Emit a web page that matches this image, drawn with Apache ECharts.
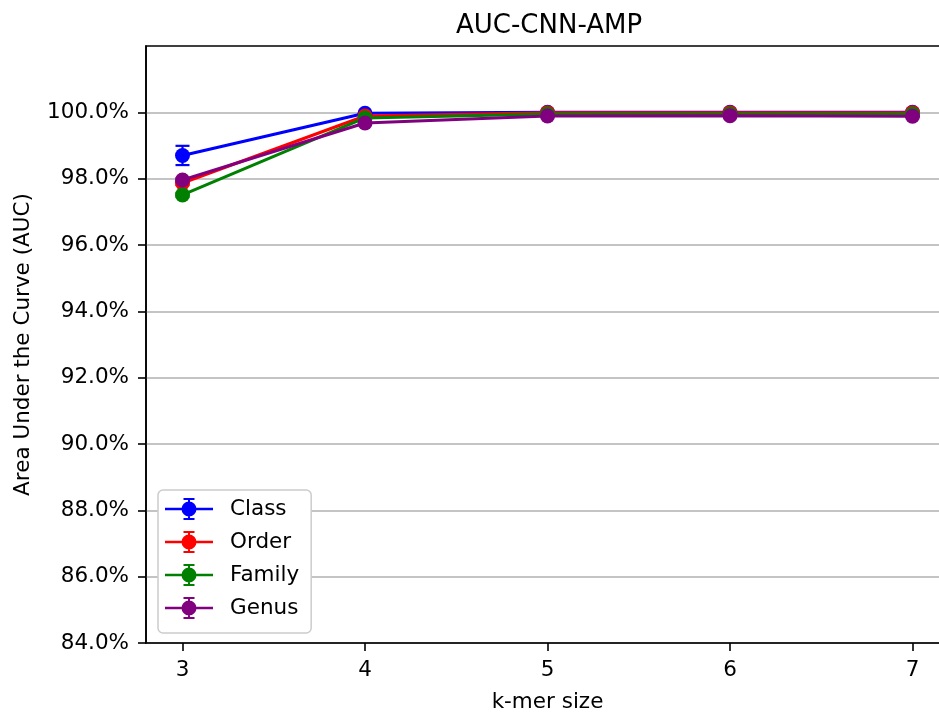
<!DOCTYPE html>
<html>
<head>
<meta charset="utf-8">
<script src="https://cdn.jsdelivr.net/npm/echarts@6/dist/echarts.min.js"></script>
<style>
  html, body { margin: 0; padding: 0; background: #fff; }
  #chart { width: 939px; height: 712px; }
</style>
</head>
<body>
<div id="chart"></div>
<script>
// k-mer sizes on the x axis
var kmers = [3, 4, 5, 6, 7];
// mean AUC (%) per taxonomic level
var classAuc  = [98.70, 99.97, 100.00, 100.00, 100.00];
var orderAuc  = [97.87, 99.89, 99.99, 99.99, 99.99];
var familyAuc = [97.51, 99.83, 99.95, 99.95, 99.95];
var genusAuc  = [97.96, 99.68, 99.89, 99.90, 99.88];
// std dev (%) for the error bars
var classErr  = [0.29, 0.03, 0.01, 0.01, 0.01];
var orderErr  = [0.06, 0.03, 0.01, 0.01, 0.01];
var familyErr = [0.05, 0.03, 0.01, 0.01, 0.01];
var genusErr  = [0.05, 0.03, 0.01, 0.01, 0.01];
var yTicks = [84, 86, 88, 90, 92, 94, 96, 98, 100];

var FONT = "DejaVu Sans";
var FS = 21.5;
var levels = [
  { name: "Class",  color: "#0000ff", y: classAuc,  err: classErr },
  { name: "Order",  color: "#ff0000", y: orderAuc,  err: orderErr },
  { name: "Family", color: "#008000", y: familyAuc, err: familyErr },
  { name: "Genus",  color: "#800080", y: genusAuc,  err: genusErr }
];

// legend glyph: line + marker + errorbar with caps (48x22 box)
var errIcon = "path://M0 9.7h48v2.6h-48Z" +
  "M31.5 11A7.5 7.5 0 1 1 16.5 11A7.5 7.5 0 1 1 31.5 11Z" +
  "M23 0h2v22h-2Z" +
  "M18.5 0h11v2h-11Z" +
  "M18.5 20h11v2h-11Z";

var series = [];
levels.forEach(function (lv) {
  var pts = kmers.map(function (k, i) { return [k, lv.y[i]]; });
  series.push({
    name: lv.name,
    type: "line",
    data: pts,
    symbol: "circle",
    symbolSize: 15,
    showSymbol: true,
    lineStyle: { color: lv.color, width: 3 },
    itemStyle: { color: lv.color },
    emphasis: { disabled: true },
    animation: false
  });
  series.push({
    name: lv.name,
    type: "custom",
    data: kmers.map(function (k, i) { return [k, lv.y[i] - lv.err[i], lv.y[i] + lv.err[i]]; }),
    renderItem: function (params, api) {
      var lo = api.coord([api.value(0), api.value(1)]);
      var hi = api.coord([api.value(0), api.value(2)]);
      var cap = 7;
      var st = { stroke: lv.color, lineWidth: 2.2 };
      return {
        type: "group",
        children: [
          { type: "line", shape: { x1: lo[0], y1: lo[1], x2: hi[0], y2: hi[1] }, style: st },
          { type: "line", shape: { x1: lo[0] - cap, y1: lo[1], x2: lo[0] + cap, y2: lo[1] }, style: st },
          { type: "line", shape: { x1: hi[0] - cap, y1: hi[1], x2: hi[0] + cap, y2: hi[1] }, style: st }
        ]
      };
    },
    encode: { x: 0, y: [1, 2] },
    silent: true,
    animation: false
  });
});

var chart = echarts.init(document.getElementById("chart"), null, { renderer: "canvas" });
chart.setOption({
  backgroundColor: "#ffffff",
  animation: false,
  textStyle: { fontFamily: FONT },
  title: {
    text: "AUC-CNN-AMP",
    left: 451,
    top: 8,
    textStyle: { fontFamily: FONT, fontSize: 26, fontWeight: "normal", color: "#000" }
  },
  grid: {
    left: 146, width: 803, top: 46, bottom: 69,
    outerBoundsMode: "none",
    containLabel: false,
    show: true, borderColor: "#000", borderWidth: 1.6, backgroundColor: "transparent"
  },
  legend: {
    orient: "vertical",
    left: 158,
    top: 490,
    padding: [8, 12, 14, 7],
    itemWidth: 48,
    itemHeight: 22,
    itemGap: 11,
    icon: errIcon,
    backgroundColor: "#ffffff",
    borderColor: "#cccccc",
    borderWidth: 1.5,
    borderRadius: 5,
    selectedMode: false,
    data: levels.map(function (lv) { return { name: lv.name, itemStyle: { color: lv.color } }; }),
    textStyle: { fontFamily: FONT, fontSize: FS, color: "#000", padding: [0, 0, 0, 12] }
  },
  xAxis: {
    type: "value",
    min: 2.8,
    max: 7.2,
    name: "k-mer size",
    nameLocation: "middle",
    nameGap: 48,
    nameTextStyle: { fontFamily: FONT, fontSize: FS, color: "#000" },
    axisLine: { show: true, lineStyle: { color: "#000", width: 1.6 } },
    axisTick: { show: true, length: 8, lineStyle: { color: "#000", width: 1.6 }, customValues: kmers },
    axisLabel: { customValues: kmers, margin: 16, fontFamily: FONT, fontSize: FS, color: "#000" },
    splitLine: { show: false }
  },
  yAxis: {
    type: "value",
    min: 84,
    max: 102,
    interval: 2,
    name: "Area Under the Curve (AUC)",
    nameLocation: "middle",
    nameGap: 112,
    nameTextStyle: { fontFamily: FONT, fontSize: FS, color: "#000" },
    axisLine: { show: true, lineStyle: { color: "#000", width: 1.6 } },
    axisTick: { show: true, length: 8, lineStyle: { color: "#000", width: 1.6 }, customValues: yTicks },
    axisLabel: {
      customValues: yTicks,
      margin: 17,
      fontFamily: FONT, fontSize: FS, color: "#000",
      formatter: function (v) { return v.toFixed(1) + "%"; }
    },
    splitLine: { show: true, lineStyle: { color: "#b0b0b0", width: 1.6 } }
  },
  series: series
});
</script>
</body>
</html>
